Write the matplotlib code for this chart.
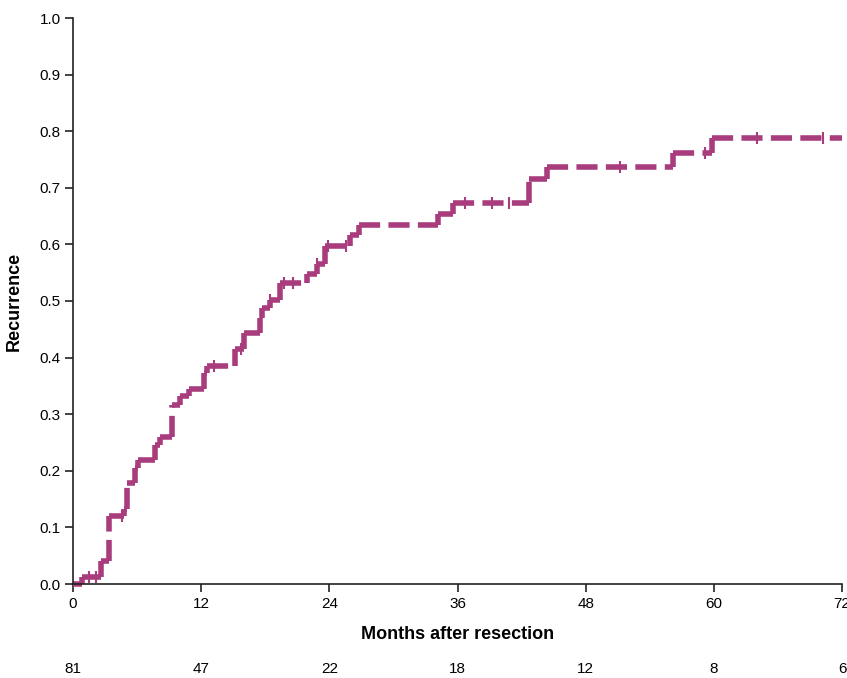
import numpy as np
import matplotlib
matplotlib.use("Agg")
import matplotlib.pyplot as plt
import matplotlib.transforms as mtransforms

# 曲線の色
curve_color = "#a83c7c"

# イベント時刻 [月] と累積再発率
event_t = [0.0, 0.8, 2.6, 3.4, 4.8, 5.1, 5.8, 6.1, 7.7, 8.1, 9.3, 10.0, 10.9,
           12.3, 12.5, 15.2, 16.0, 17.5, 17.7, 18.4, 19.4, 21.9, 22.8, 23.6,
           25.9, 26.8, 34.2, 35.6, 42.7, 44.4, 56.2, 59.8]
event_s = [0.0, 0.013, 0.040, 0.120, 0.133, 0.178, 0.205, 0.219, 0.246, 0.259,
           0.316, 0.332, 0.345, 0.372, 0.385, 0.415, 0.443, 0.470, 0.488,
           0.502, 0.532, 0.548, 0.565, 0.598, 0.616, 0.634, 0.654, 0.673,
           0.716, 0.737, 0.762, 0.788]
t_end = 72.0

# 打ち切り時刻 [月]
censor_t = [1.5, 2.2, 4.6, 13.2, 15.7, 18.4, 19.8, 20.6, 22.8, 23.9, 25.6,
            36.7, 39.2, 40.8, 51.2, 59.2, 64.0, 70.2]

# 軸目盛とリスク集団数
xticks = [0, 12, 24, 36, 48, 60, 72]
yticks = [0.0, 0.1, 0.2, 0.3, 0.4, 0.5, 0.6, 0.7, 0.8, 0.9, 1.0]
at_risk = [81, 47, 22, 18, 12, 8, 6]

plt.rcParams['font.family'] = ['Liberation Sans', 'DejaVu Sans']
plt.rcParams['xtick.direction'] = 'out'
plt.rcParams['ytick.direction'] = 'out'

fig = plt.figure(figsize=(8.47, 6.78), dpi=100)
ax = fig.add_axes([73/847, 94/678, 769/847, 566/678])

dash = (3.8, 1.5)
lw = 4.0

def step_value(t):
    i = np.searchsorted(event_t, t, side='right') - 1
    return event_s[max(i, 0)]

# 水平・垂直の各区間を別々に描く（区間ごとに破線が始まる）
times = event_t + [t_end]
for i in range(len(event_t)):
    ax.plot([times[i], times[i + 1]], [event_s[i], event_s[i]],
            color=curve_color, lw=lw, dashes=dash,
            dash_capstyle='butt', clip_on=False)
    if i + 1 < len(event_t):
        ax.plot([times[i + 1], times[i + 1]], [event_s[i], event_s[i + 1]],
                color=curve_color, lw=lw, dashes=dash,
                dash_capstyle='butt', clip_on=False)

cs = [step_value(t) for t in censor_t]
ax.plot(censor_t, cs, linestyle='none', marker='|', markersize=8,
        markeredgewidth=1.5, color=curve_color)

ax.set_xlim(0, 72)
ax.set_ylim(0, 1.0)
ax.set_xticks(xticks)
ax.set_yticks(yticks)
ax.set_yticklabels([f"{v:.1f}" for v in yticks])
ax.tick_params(axis='both', length=6, width=1.2, labelsize=11, pad=3,
               color='#222222')

for side in ['top', 'right']:
    ax.spines[side].set_visible(False)
for side in ['left', 'bottom']:
    ax.spines[side].set_linewidth(1.2)
    ax.spines[side].set_color('#222222')

ax.set_xlabel("Months after resection", fontsize=13, fontweight='bold',
              labelpad=11)
ax.set_ylabel("Recurrence", fontsize=13, fontweight='bold', labelpad=12)

# リスク集団数の行
trans = mtransforms.blended_transform_factory(ax.transData, fig.transFigure)
for x, n in zip(xticks, at_risk):
    ax.text(x, 9/678, str(n), transform=trans, ha='center', va='center',
            fontsize=11, clip_on=False)

fig.savefig("out.png", dpi=100)
